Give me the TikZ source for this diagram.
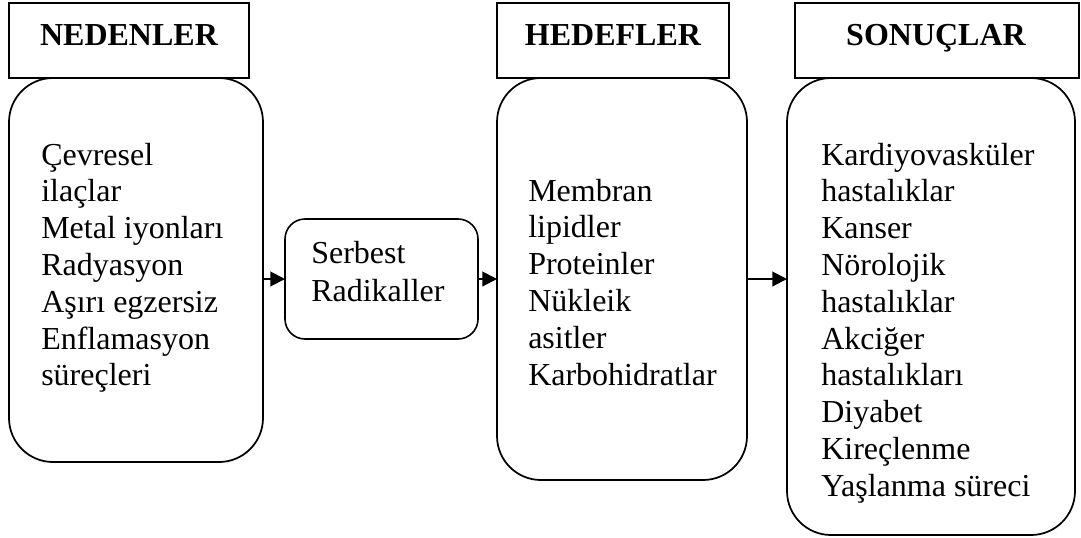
\documentclass[tikz,border=0pt]{standalone}
\usepackage{fontspec}
\setmainfont{Liberation Serif}
\usetikzlibrary{arrows.meta}
\tikzset{
  px/.style={x=0.75pt,y=-0.75pt},
  hdbox/.style={draw,line width=1.6pt,rectangle,inner sep=0pt,outer sep=0pt},
  rbox/.style={draw,line width=1.3pt,rectangle,rounded corners=33pt,inner sep=0pt,outer sep=0pt},
  sbox/.style={draw,line width=1.2pt,rectangle,rounded corners=15pt,inner sep=0pt,outer sep=0pt},
  hdtext/.style={inner sep=0pt,anchor=base,font=\fontsize{24pt}{27.6pt}\selectfont\bfseries},
  bodytext/.style={inner sep=0pt,anchor=base west,font=\fontsize{24pt}{27.6pt}\selectfont},
  arr/.style={line width=1.5pt,-{Triangle[length=11pt,width=11pt]}}
}
\begin{document}
\begin{tikzpicture}[px]
\useasboundingbox (0,0) rectangle (1081,537);
% headers
\node[hdbox,minimum width=180pt,minimum height=56.25pt] (hN) at (129,40.5) {};
\node[hdbox,minimum width=174pt,minimum height=56.25pt] (hH) at (613,40.5) {};
\node[hdbox,minimum width=213pt,minimum height=56.25pt] (hS) at (937,40.5) {};
\node[hdtext] (thN) at (129,45) {NEDENLER};
\node[hdtext] (thH) at (613,45) {HEDEFLER};
\node[hdtext] (thS) at (936,45) {SONUÇLAR};
% main boxes
\node[rbox,minimum width=190.5pt,minimum height=288pt] (bN) at (136,270) {};
\node[sbox,minimum width=144.75pt,minimum height=90pt] (bR) at (381.5,279) {};
\node[rbox,minimum width=187.5pt,minimum height=301.5pt] (bH) at (622,279) {};
\node[rbox,minimum width=216pt,minimum height=342.75pt] (bS) at (931,306.5) {};
% texts
\node[bodytext] (tN) at (41,165) {\begin{tabular}[t]{@{}l@{}}Çevresel\\ilaçlar\\Metal iyonları\\Radyasyon\\Aşırı egzersiz\\Enflamasyon\\süreçleri\end{tabular}};
\node[bodytext] (tR) at (311,263) {\begin{tabular}[t]{@{}l@{}}Serbest\\[1.5pt]Radikaller\end{tabular}};
\node[bodytext] (tH) at (528,201) {\begin{tabular}[t]{@{}l@{}}Membran\\lipidler\\Proteinler\\Nükleik\\asitler\\Karbohidratlar\end{tabular}};
\node[bodytext] (tS) at (821,165) {\begin{tabular}[t]{@{}l@{}}Kardiyovasküler\\hastalıklar\\Kanser\\Nörolojik\\hastalıklar\\Akciğer\\hastalıkları\\Diyabet\\Kireçlenme\\Yaşlanma süreci\end{tabular}};
% arrows
\draw[arr] (bN.east |- bR.west) -- (bR.west);
\draw[arr] (bR.east) -- (bR.east -| bH.west);
\draw[arr] (bH.east) -- (bH.east -| bS.west);
\end{tikzpicture}
\end{document}
